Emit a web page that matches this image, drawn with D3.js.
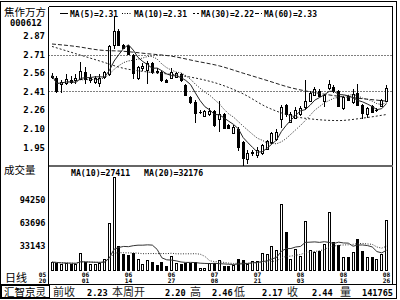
<!DOCTYPE html>
<html>
<head>
<meta charset="utf-8">
<script src="https://cdn.jsdelivr.net/npm/d3@7"></script>
<style>
  body { margin: 0; background: #fff; }
  svg { display: block; }
  text { font-family: "DejaVu Sans Mono", monospace; font-weight: bold; fill: #000; }
  text.cjk { font-family: "Noto Sans CJK SC", sans-serif; font-weight: normal; }
</style>
</head>
<body>
<svg id="chart" width="400" height="300"></svg>
<script>
// daily candles
const opens  = [2.53,2.52,2.47,2.48,2.50,2.50,2.51,2.57,2.50,2.49,2.48,2.53,2.55,2.79,2.91,2.79,2.78,2.71,2.52,2.60,
                2.59,2.64,2.58,2.57,2.50,2.52,2.53,2.55,2.46,2.36,2.32,2.24,2.21,2.22,2.25,2.18,2.22,2.13,2.07,2.10,
                1.99,1.85,1.90,1.89,1.90,1.94,1.99,2.02,2.18,2.30,2.16,2.19,2.22,2.28,2.33,2.38,2.41,2.33,2.44,2.45,
                2.41,2.27,2.37,2.32,2.40,2.30,2.22,2.29,2.26,2.29,2.33];
const highs  = [2.56,2.54,2.50,2.55,2.54,2.55,2.65,2.61,2.55,2.54,2.55,2.58,2.79,3.03,2.92,2.80,2.79,2.72,2.62,2.64,
                2.66,2.65,2.60,2.58,2.51,2.60,2.57,2.56,2.47,2.37,2.34,2.26,2.26,2.27,2.26,2.33,2.23,2.14,2.13,2.12,
                2.00,1.93,1.93,1.95,1.98,2.01,2.08,2.10,2.30,2.31,2.24,2.28,2.29,2.50,2.41,2.45,2.43,2.39,2.50,2.46,
                2.42,2.37,2.38,2.43,2.47,2.31,2.28,2.30,2.27,2.35,2.46];
const lows   = [2.51,2.40,2.40,2.46,2.47,2.47,2.50,2.47,2.48,2.47,2.45,2.51,2.54,2.76,2.78,2.76,2.71,2.51,2.50,2.58,
                2.47,2.55,2.55,2.49,2.48,2.51,2.52,2.49,2.37,2.31,2.15,2.22,2.20,2.21,2.12,2.08,2.10,2.10,2.06,1.92,
                1.80,1.81,1.88,1.86,1.89,1.93,1.98,2.00,2.11,2.20,2.15,2.18,2.21,2.26,2.32,2.37,2.36,2.28,2.42,2.40,
                2.28,2.26,2.33,2.31,2.29,2.18,2.19,2.23,2.24,2.28,2.32];
const closes = [2.54,2.41,2.49,2.51,2.49,2.52,2.58,2.51,2.52,2.52,2.52,2.57,2.78,2.91,2.79,2.77,2.72,2.56,2.61,2.62,
                2.64,2.57,2.57,2.50,2.49,2.57,2.56,2.50,2.38,2.32,2.23,2.24,2.25,2.25,2.13,2.22,2.11,2.11,2.12,1.95,
                1.86,1.90,1.91,1.93,1.97,2.00,2.07,2.08,2.28,2.22,2.22,2.26,2.27,2.33,2.40,2.43,2.37,2.38,2.47,2.41,
                2.29,2.36,2.34,2.39,2.30,2.23,2.27,2.24,2.26,2.34,2.44];
const volumes = [11200,10400,9000,9500,8800,9000,23300,11200,9000,9000,9500,15700,63700,125600,32300,22500,20200,24000,16000,9000,
                 14000,12000,7000,12000,6000,18800,10000,9000,10000,9500,12000,3600,3600,9800,9800,14400,6000,5400,6700,15700,
                 14400,9000,12600,12600,23300,21500,32300,27000,88500,51600,15700,29200,20000,66000,27000,25000,26000,36000,78500,38000,
                 33600,18000,18000,24700,42700,26000,18000,18000,15700,21500,67300];

// long averages read every 5 candles
const maSampleStep = 5;
const ma30Samples = [2.78,2.72,2.66,2.60,2.57,2.55,2.52,2.47,2.39,2.28,2.21,2.18,2.17,2.19,2.22];
const ma60Samples = [2.80,2.78,2.75,2.74,2.72,2.70,2.66,2.62,2.56,2.50,2.44,2.40,2.37,2.35,2.33];

const priceTicks = [2.87, 2.71, 2.56, 2.41, 2.26, 2.10, 1.95];
const priceGrid = [2.71, 2.41];
const volumeTicks = [94250, 63696, 33143];
const dateIndex = [-2, 7, 16, 25, 34, 43, 52, 61, 70];
const dateLabels = [['05','20'],['06','01'],['06','14'],['06','27'],['07','08'],['07','21'],['08','03'],['08','16'],['08','26']];

const maLegend = ['MA(5)=2.31', 'MA(10)=2.31', 'MA(30)=2.22', 'MA(60)=2.33'];
const volLegend = ['MA(10)=27411', 'MA(20)=32176'];
const summaryLabels = ['前收', '本周开', '高', '低', '收', '量'];
const summaryValues = ['2.23', '2.20', '2.46', '2.17', '2.44', '141765'];

// layout
const plotL = 48.5, plotR = 392.5;
const priceTop = 6.5, priceBot = 166, volBot = 270.5, axisBot = 284.5;

const svg = d3.select('#chart');

const x = d3.scaleLinear().domain([0, closes.length - 1]).range([52, 386.5]);
const yPrice = d3.scaleLinear().domain([1.95, 2.87]).range([147.3, 35.5]);
const yVol = d3.scaleLinear().domain([0, 94250]).range([volBot, 200]);

const rolling = (arr, n) => arr.map((_, i) => d3.mean(arr.slice(Math.max(0, i - n + 1), i + 1)));

// clip regions
const defs = svg.append('defs');
defs.append('clipPath').attr('id', 'clipPrice').append('rect')
    .attr('x', plotL).attr('y', priceTop).attr('width', plotR - plotL).attr('height', priceBot - priceTop);
defs.append('clipPath').attr('id', 'clipVol').append('rect')
    .attr('x', plotL).attr('y', priceBot).attr('width', plotR - plotL).attr('height', volBot - priceBot + 1);

// frames
const frame = svg.append('g').attr('stroke', '#000').attr('fill', 'none').attr('shape-rendering', 'crispEdges');
frame.append('rect').attr('x', 0.5).attr('y', 1.5).attr('width', 396).attr('height', 297);
frame.append('line').attr('x1', plotL).attr('x2', plotR).attr('y1', priceTop).attr('y2', priceTop);
frame.append('line').attr('x1', plotR).attr('x2', plotR).attr('y1', priceTop).attr('y2', axisBot);
frame.append('line').attr('x1', plotL).attr('x2', plotL).attr('y1', priceTop).attr('y2', axisBot);
frame.append('line').attr('x1', 0).attr('x2', 396.5).attr('y1', axisBot).attr('y2', axisBot);
frame.append('line').attr('x1', plotL).attr('x2', plotR).attr('y1', priceBot).attr('y2', priceBot)
    .attr('stroke', '#666').attr('stroke-width', 2);
frame.append('rect').attr('x', 1.5).attr('y', 285.5).attr('width', 48).attr('height', 11.5);

// grid lines
svg.append('g').selectAll('line').data(priceGrid).join('line')
    .attr('x1', plotL).attr('x2', plotR)
    .attr('y1', d => Math.round(yPrice(d)) + 0.5).attr('y2', d => Math.round(yPrice(d)) + 0.5)
    .attr('stroke', '#000').attr('stroke-dasharray', '1,2');

// candles
const candles = svg.append('g').attr('clip-path', 'url(#clipPrice)').attr('shape-rendering', 'crispEdges');
closes.forEach((c, i) => {
    const o = opens[i], h = highs[i], l = lows[i];
    const px = Math.floor(x(i));
    const up = c >= o;
    const yT = Math.round(yPrice(Math.max(o, c))), yB = Math.round(yPrice(Math.min(o, c)));
    const yH = Math.round(yPrice(h)), yL = Math.round(yPrice(l));
    const g = candles.append('g').attr('stroke', '#000');
    if (yB - yT < 1) {
        g.append('line').attr('x1', px + 0.5).attr('x2', px + 0.5).attr('y1', yH).attr('y2', yL);
        g.append('line').attr('x1', px - 1).attr('x2', px + 2).attr('y1', yT + 0.5).attr('y2', yT + 0.5);
        return;
    }
    if (up) {
        g.append('line').attr('x1', px + 0.5).attr('x2', px + 0.5).attr('y1', yH).attr('y2', yT);
        g.append('line').attr('x1', px + 0.5).attr('x2', px + 0.5).attr('y1', yB + 1).attr('y2', yL);
    } else {
        g.append('line').attr('x1', px + 0.5).attr('x2', px + 0.5).attr('y1', yH).attr('y2', yL);
    }
    g.append('rect')
        .attr('x', px - 0.5).attr('y', yT + 0.5)
        .attr('width', 2).attr('height', yB - yT)
        .attr('fill', up ? '#fff' : '#000');
});

// moving averages
const maGroup = svg.append('g').attr('clip-path', 'url(#clipPrice)')
    .attr('fill', 'none').attr('stroke', '#222').attr('stroke-width', 1);
const lineFn = d3.line().x(d => x(d[0])).y(d => yPrice(d[1]));
const ma5 = rolling(closes, 5).map((v, i) => [i, v]);
const ma10 = rolling(closes, 10).map((v, i) => [i, v]);
const ma30 = ma30Samples.map((v, k) => [k * maSampleStep, v]);
const ma60 = ma60Samples.map((v, k) => [k * maSampleStep, v]);
maGroup.append('path').attr('d', lineFn(ma5));
maGroup.append('path').attr('d', lineFn(ma10)).attr('stroke-dasharray', '1,1.5');
maGroup.append('path').attr('d', lineFn.curve(d3.curveMonotoneX)(ma30)).attr('stroke-dasharray', '2,2');
maGroup.append('path').attr('d', lineFn.curve(d3.curveMonotoneX)(ma60)).attr('stroke-dasharray', '4,2');

// legend of price averages
const legendDash = [null, '1,1.5', '2,2', '4,2'];
const legendX = [60, 122, 193, 255];
const legendW = [8, 10, 6, 7];
maLegend.forEach((t, k) => {
    svg.append('line')
        .attr('x1', legendX[k]).attr('x2', legendX[k] + legendW[k])
        .attr('y1', 13.5).attr('y2', 13.5)
        .attr('stroke', '#000').attr('stroke-dasharray', legendDash[k]);
    svg.append('text')
        .attr('x', legendX[k] + legendW[k] + 2).attr('y', 17)
        .attr('font-size', 8).text(t);
});

// volume bars
const vol = svg.append('g').attr('clip-path', 'url(#clipVol)').attr('shape-rendering', 'crispEdges');
vol.selectAll('rect').data(volumes).join('rect')
    .attr('x', (d, i) => Math.floor(x(i)) - 0.5)
    .attr('y', d => Math.round(yVol(d)) + 0.5)
    .attr('width', 2)
    .attr('height', d => volBot - Math.round(yVol(d)) - 0.5)
    .attr('fill', (d, i) => closes[i] >= opens[i] ? '#fff' : '#000')
    .attr('stroke', '#000');

const volLine = d3.line().x((d, i) => x(i)).y(d => yVol(d));
const volMa = svg.append('g').attr('clip-path', 'url(#clipVol)')
    .attr('fill', 'none').attr('stroke', '#333');
volMa.append('path').attr('d', volLine(rolling(volumes, 10)));
volMa.append('path').attr('d', volLine(rolling(volumes, 20))).attr('stroke-dasharray', '1,1.5');

svg.append('text').attr('x', 71).attr('y', 176).attr('font-size', 8.2).text(volLegend[0]);
svg.append('text').attr('x', 144).attr('y', 176).attr('font-size', 8.2).text(volLegend[1]);

// left column
svg.append('text').attr('class', 'cjk').attr('x', 4).attr('y', 16).attr('font-size', 10.5).text('焦作万方');
svg.append('text').attr('x', 10).attr('y', 25.5).attr('font-size', 8.8).text('000612');

svg.append('g').selectAll('text').data(priceTicks).join('text')
    .attr('x', 45).attr('y', d => yPrice(d) + 3.2)
    .attr('text-anchor', 'end').attr('font-size', 9)
    .text(d => d.toFixed(2));

svg.append('text').attr('class', 'cjk').attr('x', 4).attr('y', 174).attr('font-size', 10.5).text('成交量');

svg.append('g').selectAll('text').data(volumeTicks).join('text')
    .attr('x', 45.5).attr('y', d => yVol(d) + 3)
    .attr('text-anchor', 'end').attr('font-size', 8.6)
    .text(d => d);

svg.append('text').attr('class', 'cjk').attr('x', 5).attr('y', 282).attr('font-size', 11).text('日线');

// dates
const dates = svg.append('g').attr('text-anchor', 'middle').attr('font-size', 6.2);
dateIndex.forEach((idx, k) => {
    dates.append('text').attr('x', x(idx)).attr('y', 276.5).text(dateLabels[k][0]);
    dates.append('text').attr('x', x(idx)).attr('y', 282.8).text(dateLabels[k][1]);
});

// bottom summary row
svg.append('text').attr('class', 'cjk').attr('x', 4).attr('y', 295.5).attr('font-size', 10.5).text('汇智京灵');
const labelX = [53, 112, 190, 234, 287, 340];
const valueX = [87, 165, 212, 262, 312, 362];
summaryLabels.forEach((t, k) => {
    svg.append('text').attr('class', 'cjk').attr('x', labelX[k]).attr('y', 296)
        .attr('font-size', 11).style('fill', '#222').text(t);
    svg.append('text').attr('x', valueX[k]).attr('y', 295.5)
        .attr('font-size', 8.6).text(summaryValues[k]);
});
</script>
</body>
</html>
